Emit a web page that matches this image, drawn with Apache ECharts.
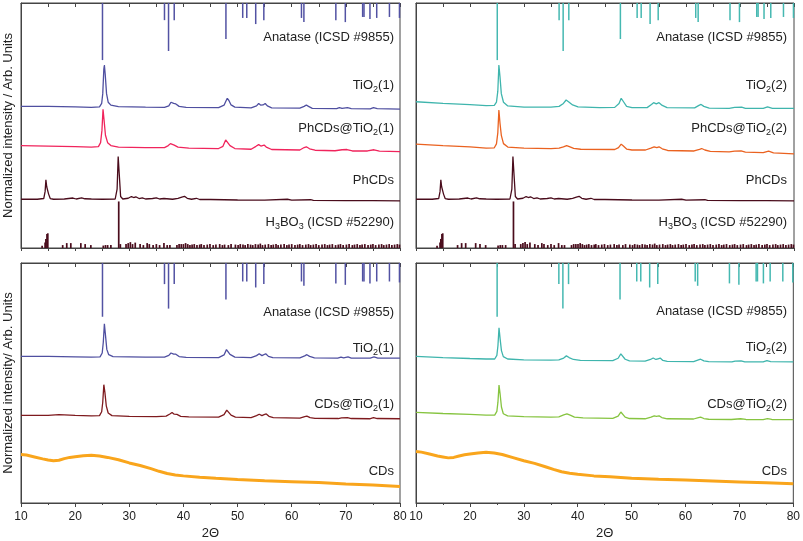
<!DOCTYPE html>
<html>
<head>
<meta charset="utf-8">
<script src="https://cdn.jsdelivr.net/npm/echarts@6/dist/echarts.min.js"></script>
<style>
  html, body { margin: 0; padding: 0; background: #fff; }
  #chart { width: 803px; height: 541px; }
</style>
</head>
<body>
<div id="chart"></div>
<script>
// reference lines, anatase (ICSD #9855): 2theta and line length hanging from the top
const anatasePos = [25.05, 36.5, 37.25, 38.3, 47.85, 50.95, 51.7, 53.35, 54.85, 61.8, 62.25, 68.15, 69.9, 73.1, 73.35, 74.45, 75.7, 78.05, 79.9];
const anataseLenTop = [23.3, 7, 19.6, 7, 14.7, 6.1, 6.1, 8.6, 7, 6.1, 7.8, 7, 7.8, 5.7, 5.7, 6.5, 6.1, 5.7, 6.1];
const anataseLenBottom = [22.4, 8.8, 19, 8.8, 15.2, 7.7, 7.7, 10.2, 8.8, 7.7, 9.5, 8.5, 9.1, 7.7, 7.7, 8.5, 7.7, 7.7, 8.1];

// H3BO3 (ICSD #52290): [2theta, height]
const h3bo3Sticks = [
  [13.9, 0.9], [14.45, 2.2], [14.6, 3.7], [14.8, 5.7], [14.95, 6], [17.7, 1.2], [18.45, 2], [19.2, 2],
  [21.05, 2], [21.85, 1.6], [22.9, 1.2], [25.2, 1], [25.6, 1.2], [26.0, 1.2], [26.6, 1.2], [28.05, 19],
  [28.35, 1.6], [29.4, 1.6], [29.8, 2], [30.2, 2.4], [30.6, 1.6], [31.1, 2.2], [32.0, 1.6], [32.6, 1.2],
  [33.3, 2], [33.7, 1.6], [34.4, 1.2], [35.0, 1.6], [35.6, 1.2], [36.4, 2], [37.0, 1.2], [37.5, 1.2],
  [38.8, 1.2], [39.2, 1.6], [39.6, 1.6], [40.0, 1.6], [40.4, 2], [40.8, 1.6], [41.2, 1.2], [41.6, 1.4],
  [42.0, 1.6], [42.5, 1.2], [43.0, 1.4], [43.3, 1.6], [43.8, 1.2], [44.4, 1.4], [44.9, 1.6], [45.5, 1.2],
  [46.0, 1.4], [46.7, 1.6], [47.2, 1.2], [47.6, 1.4], [48.3, 1.2], [48.8, 1.6], [49.6, 1.4], [50.1, 1.2],
  [50.5, 1.6], [51.0, 1.4], [51.4, 1.2], [51.9, 1.6], [52.4, 1.4], [52.8, 1.2], [53.3, 1.6], [53.8, 1.4],
  [54.2, 1.8], [54.6, 1.2], [55.1, 1.4], [55.7, 1.6], [56.2, 1.2], [56.6, 1.4], [57.1, 1.6], [57.5, 1.2],
  [58.0, 1.4], [58.6, 1.6], [59.1, 1.2], [59.5, 1.4], [60.0, 1.6], [60.6, 1.2], [61.1, 1.4], [61.5, 1.6],
  [62.0, 1.2], [62.6, 1.4], [63.1, 1.6], [63.5, 1.2], [64.0, 1.4], [64.5, 1.6], [65.0, 1.2], [65.6, 1.4],
  [66.1, 1.6], [66.6, 1.2], [67.0, 1.4], [67.5, 1.6], [68.1, 1.2], [68.6, 1.4], [69.0, 1.6], [69.5, 1.2],
  [70.1, 1.4], [70.6, 1.6], [71.2, 1.2], [71.6, 1.4], [72.1, 1.6], [72.6, 1.2], [73.0, 1.4], [73.5, 1.6],
  [74.1, 1.2], [74.6, 1.4], [75.0, 1.6], [75.5, 1.2], [76.1, 1.4], [76.6, 1.6], [77.0, 1.2], [77.5, 1.4],
  [78.0, 1.6], [78.5, 1.2], [79.0, 1.4], [79.5, 1.6], [79.9, 1.4]
];

// top left
const tio2_1A = [[10,57.8],[15,57.8],[20,57.6],[23,57.4],[24.5,57.6],[24.9,59],[25.1,63],[25.3,73],[25.4,74.7],[25.55,71],[25.8,63],[26.1,59.5],[26.6,58.3],[28,57.7],[33,57.5],[36.5,57.4],[37.3,58],[37.7,59.5],[37.9,60.1],[38.2,59],[38.6,58.8],[39.2,57.8],[40.5,57.4],[46.5,57.3],[47.5,58.3],[47.9,60.2],[48.1,61.1],[48.4,60.2],[48.8,58.4],[49.5,57.5],[52.5,57.2],[53.5,58],[53.9,59],[54.3,58.3],[54.7,58.4],[55.1,59],[55.5,58],[56.3,57.2],[61.5,57.1],[62.3,57.8],[62.7,58.4],[63.1,57.8],[63.8,57],[68.3,56.9],[68.8,57.3],[69.3,57],[70.3,57.3],[71,56.9],[74.5,56.8],[75.1,57.3],[75.8,56.9],[80,56.7]];
const phcdsTio2_1 = [[10,41.8],[15,41.6],[20,41.4],[23,41.2],[24.3,41.4],[24.7,43],[24.95,48],[25.15,56.6],[25.35,52],[25.6,46],[26,43],[26.6,41.8],[28,41.2],[33,41],[36.5,41],[37.2,41.8],[37.6,42.6],[37.9,42.7],[38.3,42],[39,41.2],[41,40.8],[46.5,40.6],[47.3,41.5],[47.8,44.1],[48.1,43.5],[48.6,41.8],[49.5,40.6],[52.5,40.3],[53.4,41.5],[53.9,42.2],[54.3,41.6],[54.9,42],[55.3,41.2],[56.3,40.2],[61.5,40],[62.3,41],[62.7,41.3],[63.3,40.5],[64.3,39.9],[68,39.7],[69.3,40.1],[70.2,40.2],[71.2,39.6],[74,39.6],[75.2,40.1],[76.2,39.5],[80,39.3]];
const phcds = [[10,19.9],[13,19.9],[14.2,20.2],[14.45,23],[14.6,27.8],[14.75,25],[14.9,25.6],[15.1,22],[15.4,20.2],[16,19.9],[18,20],[19.6,20.4],[20.2,20],[21.2,20.5],[21.8,20.1],[23,20],[25,19.9],[27.4,20],[27.75,24],[27.95,37.3],[28.15,30],[28.4,21],[28.8,20],[29.8,20.3],[30.4,21],[30.8,20.6],[31.2,20.9],[31.8,20.2],[32.4,20.5],[33,20],[34.3,20.2],[35,20.5],[35.6,20],[36.4,20.2],[38,19.9],[39,20.3],[39.7,20.8],[40.2,21.1],[40.7,20.3],[41.5,19.9],[42.4,20.3],[43,19.8],[45,19.8],[50,19.6],[55,19.5],[59.2,19.9],[60,19.5],[63.5,19.7],[64,19.4],[70,19.3],[75,19.3],[80,19.2]];

// top right
const tio2_2A = [[10,59.7],[15,59],[20,58.5],[23,58.1],[24.5,58.2],[24.9,59.5],[25.15,64],[25.35,74.7],[25.55,70],[25.8,63],[26.2,59.5],[27,58],[30,57.5],[35,57.5],[36.5,57.8],[37.3,59],[37.8,60.4],[38.3,59.6],[39,58.4],[40,57.6],[44,57.3],[46.8,57.4],[47.6,59],[48.0,61.1],[48.4,59.8],[49,57.8],[50,57.3],[52.8,57.3],[53.6,58.6],[54.0,59.3],[54.5,58.8],[55.0,59.3],[55.6,58.2],[56.5,57.3],[61.6,57.2],[62.4,58.2],[62.8,58.6],[63.3,57.8],[64.3,57.1],[68,57],[69,57.4],[70.3,57.5],[71,57],[74.3,57],[75.1,57.6],[76,57],[80,57]];
const phcdsTio2_2 = [[10,42.4],[15,41.8],[20,41.3],[23,40.8],[24.5,40.9],[24.9,42.5],[25.15,47],[25.35,56.3],[25.55,51],[25.8,46],[26.2,42.6],[27,41.2],[30,40.8],[35,40.6],[36.5,40.8],[37.3,41.3],[37.9,41.8],[38.4,41.4],[39.2,40.7],[40.5,40.3],[46.8,40.2],[47.5,41],[48.0,42.4],[48.4,41.6],[49,40.4],[50,40],[52.5,40],[53.5,40.8],[54.1,41.3],[54.6,41],[55.0,41.3],[55.6,40.5],[56.6,39.8],[61.5,39.6],[62.5,40.3],[62.9,40.6],[63.5,40],[64.5,39.4],[68,39.2],[69,39.5],[70.2,39.6],[71,39.1],[74.3,38.9],[75.3,39.5],[76.2,38.8],[80,38.4]];

// bottom left
const tio2_1B = [[10,61.1],[15,61.1],[20,60.9],[23,60.8],[24.6,60.9],[25.0,62.5],[25.2,67],[25.4,74.7],[25.6,70],[25.85,64],[26.2,61.8],[27,61],[33,60.8],[36.5,60.8],[37.3,61.5],[37.7,62.5],[37.95,63.1],[38.2,62],[38.6,62],[39.2,61],[40.5,60.7],[46.5,60.6],[47.5,61.7],[47.95,63.9],[48.2,63.5],[48.6,61.9],[49.5,60.8],[52.5,60.6],[53.5,61.4],[54.0,62.2],[54.5,61.4],[54.8,61.6],[55.2,62.2],[55.7,61.1],[56.5,60.6],[61.5,60.5],[62.4,61.3],[62.8,61.8],[63.3,61.1],[64.2,60.5],[68.5,60.4],[69.1,60.8],[69.6,60.5],[70.4,60.9],[71,60.4],[74.5,60.4],[75.2,60.9],[75.9,60.4],[80,60.4]];
const cdsTio2_1 = [[10,36.5],[15,36.5],[17,36.8],[20,36.5],[23,36.3],[24.5,36.4],[24.9,38],[25.1,42],[25.3,49.3],[25.5,46],[25.75,40.5],[26.1,37.5],[26.8,36.4],[30,36.1],[35,36],[36.8,36.2],[37.5,37.1],[37.9,37.7],[38.3,37],[38.8,36.9],[39.5,36.1],[41,35.9],[46.5,35.8],[47.5,36.8],[48,38.7],[48.3,38.2],[48.8,36.6],[49.6,35.8],[52.5,35.6],[53.5,36.4],[54.0,37],[54.5,36.4],[54.9,36.8],[55.3,37.1],[55.8,36.1],[56.6,35.6],[61.5,35.4],[62.4,36],[62.8,36.2],[63.4,35.6],[64.3,35.3],[68.6,35.2],[69.2,35.5],[70.3,35.6],[71,35.2],[74.4,35.1],[75.1,35.6],[75.8,35.2],[80,35.1]];
const cdsA = [[10,20.2],[11,20],[12.5,19.2],[14,18.4],[15,17.9],[16,17.6],[17,17.8],[18,18.5],[19,19],[20,19.3],[21.5,19.7],[23,19.9],[24.5,19.6],[26,19],[28,18],[30,16.7],[32,15.6],[34,14.3],[35.5,13.2],[37,12.3],[38.5,11.7],[40,11.3],[43,10.7],[46,10.3],[50,9.8],[55,9.3],[60,8.9],[65,8.5],[70,7.9],[75,7.5],[80,6.9]];

// bottom right
const tio2_2B = [[10,61.1],[15,60.6],[20,60.2],[23,60],[24.6,60],[25.0,61.5],[25.2,65.5],[25.4,73],[25.6,68.5],[25.85,63.5],[26.2,61],[27,60],[30,59.6],[35,59.5],[36.5,59.6],[37.4,60.4],[37.9,61.3],[38.4,60.6],[39.2,59.8],[40.5,59.4],[46.5,59.3],[47.5,60.3],[48.0,62.1],[48.3,61.6],[48.8,59.9],[49.6,59.2],[52.5,59.1],[53.5,59.8],[54.0,60.4],[54.5,59.8],[54.9,60.1],[55.3,60.4],[55.8,59.4],[56.6,59],[61.5,58.9],[62.4,59.6],[62.8,59.9],[63.4,59.2],[64.3,58.9],[68.6,58.8],[69.2,59.1],[70.3,59.2],[71,58.8],[74.4,58.8],[75.1,59.3],[75.8,58.9],[80,58.8]];
const cdsTio2_2 = [[10,37.8],[15,37.3],[20,36.9],[23,36.6],[24.6,36.6],[25.0,38.2],[25.2,42],[25.4,49.1],[25.6,45.5],[25.85,40],[26.2,37.2],[27,36.3],[30,36],[35,35.8],[36.5,35.9],[37.4,36.7],[38.0,37.1],[38.6,36.6],[39.4,35.8],[41,35.5],[46.5,35.3],[47.5,36.2],[48.0,37.9],[48.3,37.3],[48.8,35.8],[49.6,35.2],[52.5,35.1],[53.6,35.8],[54.2,36.3],[54.6,36.1],[55.1,36.3],[55.6,35.6],[56.6,35.1],[61.5,35],[62.4,35.6],[62.8,35.8],[63.4,35.2],[64.3,34.9],[68.5,34.8],[70.2,35.1],[71.2,34.8],[74.4,34.7],[75.2,35.2],[76,34.8],[80,34.7]];
const cdsB = [[10,21.5],[11,21.2],[12.5,20.4],[14,19.6],[15,19.2],[16,18.8],[17,19],[18,19.6],[19,20.1],[20,20.4],[21.5,20.8],[23,21.1],[24.5,20.8],[26,20.2],[28,18.9],[30,17.6],[32,16.5],[34,15.1],[35.5,14],[37,13],[38.5,12.4],[40,12],[43,11.3],[46,10.9],[50,10.3],[55,9.9],[60,9.6],[65,9.2],[70,8.8],[75,8.4],[80,8.0]];

const xTicks = [10, 20, 30, 40, 50, 60, 70, 80];

const AXIS = '#444';
const FONT = '"Liberation Sans", Arial, sans-serif';

const chart = echarts.init(document.getElementById('chart'));

// 0: top left, 1: top right, 2: bottom left, 3: bottom right
const grids = [
  { left: 21, right: 403, top: 3, height: 245 },
  { left: 416, right: 9, top: 3, height: 245 },
  { left: 21, right: 403, top: 263, height: 245 },
  { left: 416, right: 9, top: 263, height: 245 }
].map(g => Object.assign(g, { show: true, borderColor: AXIS, borderWidth: 1, containLabel: false }));

const xAxis = [];
const yAxis = [];
grids.forEach((g, i) => {
  const bottomRow = i >= 2;
  xAxis.push({
    gridIndex: i, type: 'value', min: xTicks[0], max: xTicks[xTicks.length - 1], interval: 10,
    position: 'bottom',
    axisLine: { show: true, onZero: false, lineStyle: { color: AXIS, width: 1 } },
    axisTick: { show: true, inside: false, length: bottomRow ? 4 : 3, lineStyle: { color: AXIS } },
    minorTick: { show: true, splitNumber: 2, length: bottomRow ? 2 : 3, lineStyle: { color: AXIS } },
    axisLabel: { show: bottomRow, color: '#222', fontSize: 12, fontFamily: FONT, margin: 8 },
    splitLine: { show: false },
    name: bottomRow ? '2Θ' : '',
    nameLocation: 'middle', nameGap: 24,
    nameTextStyle: { color: '#222', fontSize: 13, fontFamily: FONT }
  });
  xAxis.push({
    gridIndex: i, type: 'value', min: 10, max: 80, interval: 10,
    position: 'top',
    axisLine: { show: true, onZero: false, lineStyle: { color: AXIS, width: 1 } },
    axisTick: { show: true, inside: true, length: 4, lineStyle: { color: AXIS } },
    minorTick: { show: true, splitNumber: 2, length: 4, lineStyle: { color: AXIS } },
    axisLabel: { show: false },
    splitLine: { show: false }
  });
  yAxis.push({
    gridIndex: i, type: 'value', min: 0, max: 100,
    axisLine: { show: true, onZero: false, lineStyle: { color: AXIS } },
    axisTick: { show: false }, axisLabel: { show: false }, splitLine: { show: false },
    name: i === 0 ? 'Normalized intensity / Arb. Units' : (i === 2 ? 'Normalized intensity/ Arb. Units' : ''),
    nameLocation: 'middle', nameGap: 6, nameRotate: 90,
    nameTextStyle: { color: '#222', fontSize: 13, fontFamily: FONT }
  });
});

// stick patterns drawn with the axis scales
function sticks(grid, data, color, width) {
  return {
    type: 'custom', xAxisIndex: grid * 2, yAxisIndex: grid,
    data: data, encode: { x: 0, y: [1, 2] },
    renderItem: function (params, api) {
      const a = api.coord([api.value(0), api.value(1)]);
      const b = api.coord([api.value(0), api.value(2)]);
      return {
        type: 'line',
        shape: { x1: a[0], y1: a[1], x2: b[0], y2: b[1] },
        style: { stroke: color, lineWidth: width }
      };
    },
    silent: true, z: 3
  };
}
function anatase(lens) {
  return anatasePos.map((p, k) => [p, 100, 100 - lens[k]]);
}
const h3bo3 = h3bo3Sticks.map(s => [s[0], 0, s[1]]);

function curve(grid, data, color, width) {
  return {
    type: 'line', xAxisIndex: grid * 2, yAxisIndex: grid,
    data: data, showSymbol: false, symbol: 'none', smooth: false,
    lineStyle: { color: color, width: width || 1.3 },
    silent: true, z: 2
  };
}

const series = [
  sticks(0, anatase(anataseLenTop), '#5252a3', 1.5),
  curve(0, tio2_1A, '#4f4fa0'),
  curve(0, phcdsTio2_1, '#f0245c'),
  curve(0, phcds, '#4a0c1c'),
  sticks(0, h3bo3, '#4a0c1c', 1.7),

  sticks(1, anatase(anataseLenTop), '#45b8b1', 1.5),
  curve(1, tio2_2A, '#3fb5ad'),
  curve(1, phcdsTio2_2, '#ea6220'),
  curve(1, phcds, '#4a0c1c'),
  sticks(1, h3bo3, '#4a0c1c', 1.7),

  sticks(2, anatase(anataseLenBottom), '#5252a3', 1.5),
  curve(2, tio2_1B, '#4f4fa0'),
  curve(2, cdsTio2_1, '#7e1a1e'),
  curve(2, cdsA, '#f9a51c', 3),

  sticks(3, anatase(anataseLenBottom), '#45b8b1', 1.5),
  curve(3, tio2_2B, '#3fb5ad'),
  curve(3, cdsTio2_2, '#86c440'),
  curve(3, cdsB, '#f9a51c', 3)
];

const richText = {
  n: { fontSize: 13, lineHeight: 18, color: '#222', fontFamily: FONT },
  s: { fontSize: 9, lineHeight: 10, verticalAlign: 'bottom', color: '#222', fontFamily: FONT }
};
function label(text, right, top) {
  return {
    text: text, right: right, top: top, padding: 0,
    textStyle: { fontSize: 13, fontWeight: 'normal', color: '#222', fontFamily: FONT, rich: richText }
  };
}
const title = [
  label('{n|Anatase (ICSD #9855)}', 409, 28),
  label('{n|TiO}{s|2}{n|(1)}', 409, 76),
  label('{n|PhCDs@TiO}{s|2}{n|(1)}', 409, 119),
  label('{n|PhCDs}', 409, 171),
  label('{n|H}{s|3}{n|BO}{s|3}{n| (ICSD #52290)}', 409, 213),

  label('{n|Anatase (ICSD #9855)}', 16, 28),
  label('{n|TiO}{s|2}{n|(2)}', 16, 76),
  label('{n|PhCDs@TiO}{s|2}{n|(2)}', 16, 119),
  label('{n|PhCDs}', 16, 171),
  label('{n|H}{s|3}{n|BO}{s|3}{n| (ICSD #52290)}', 16, 213),

  label('{n|Anatase (ICSD #9855)}', 409, 303),
  label('{n|TiO}{s|2}{n|(1)}', 409, 339),
  label('{n|CDs@TiO}{s|2}{n|(1)}', 409, 395),
  label('{n|CDs}', 409, 462),

  label('{n|Anatase (ICSD #9855)}', 16, 302),
  label('{n|TiO}{s|2}{n|(2)}', 16, 338),
  label('{n|CDs@TiO}{s|2}{n|(2)}', 16, 395),
  label('{n|CDs}', 16, 462)
];

chart.setOption({
  animation: false,
  backgroundColor: '#fff',
  title: title,
  grid: grids,
  xAxis: xAxis,
  yAxis: yAxis,
  series: series
});
</script>
</body>
</html>
